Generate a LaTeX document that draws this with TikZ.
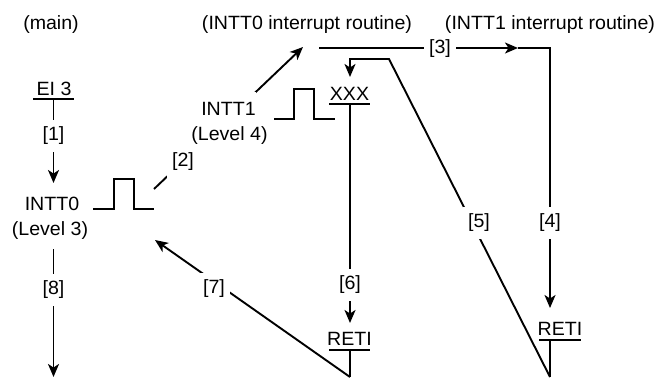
\documentclass[tikz,border=0pt]{standalone}
\usepackage{fontspec}
\setmainfont{Liberation Sans}[FakeStretch=1.02]
\usetikzlibrary{arrows.meta}
\begin{document}
\begin{tikzpicture}[x=1pt,y=-1pt,
  every node/.style={font=\fontsize{19.2}{25}\selectfont},
  wire/.style={line width=1.9pt},
  flow/.style={wire,-{Stealth[length=13pt,width=11pt,inset=3.5pt]}},
  txt/.style={inner sep=0pt,anchor=base},
  tag/.style={fill=white,inner xsep=5pt,inner ysep=7pt},
  cover/.style={fill=white,anchor=base,inner xsep=0pt,inner ysep=10pt}]
\useasboundingbox (0,0) rectangle (660,378);

% column headings
\node[txt] (hmain) at (51,29.5) {(main)};
\node[txt] (hint0) at (307,29.5) {(INTT0 interrupt routine)};
\node[txt] (hint1) at (550,29.5) {(INTT1 interrupt routine)};

% main program
\node[txt] (ei) at (54,95) {EI 3};
\coordinate (eiL) at (33,99);
\coordinate (eiR) at (74,99);
\coordinate (eiB) at (53.5,99);
\draw[wire] (eiL) -- (eiR);
\coordinate (intIn) at (53.5,183);
\draw[flow] (eiB) -- (intIn);
\node[tag] (s1) at (53.5,136) {[1]};

\node[txt] (int0) at (52,210) {INTT0};
\node[txt] (lev3) at (50,235) {(Level 3)};
\coordinate (mainOut) at (53.5,249);
\coordinate (mainEnd) at (53.5,377);
\draw[flow] (mainOut) -- (mainEnd);
\node[tag] (s8) at (53.5,290) {[8]};

% INTT0 request pulse
\coordinate (pl0) at (93,209);
\coordinate (pr0) at (154,209);
\draw[wire] (pl0) -- (114,209) -- (114,179) -- (134,179) -- (134,209) -- (pr0);

% [2] jump into the INTT0 routine
\coordinate (j2s) at (154,189);
\coordinate (j2e) at (303,47);
\draw[flow] (j2s) -- (j2e);
\node[tag] (s2) at (183,162) {[2]};
\node[cover] (int1) at (228.5,115) {INTT1};
\node[cover,inner xsep=3pt,inner ysep=5pt] (lev4) at (229.5,140) {(Level 4)};

% INTT1 request pulse
\coordinate (pl1) at (274,119);
\coordinate (pr1) at (335,119);
\draw[wire] (pl1) -- (294,119) -- (294,89) -- (314,89) -- (314,119) -- (pr1);

% [3] jump into the INTT1 routine, [4] down to RETI
\coordinate (j3s) at (319,48);
\coordinate (j3m) at (518,48);
\coordinate (j3c) at (550,48);
\coordinate (r1In) at (550,308);
\draw[flow] (j3s) -- (j3m);
\draw[flow] (j3m) -- (j3c) -- (r1In);
\node[tag] (s3) at (440,49) {[3]};
\node[tag] (s4) at (550,223) {[4]};

\node[txt] (reti1) at (560,335) {RETI};
\coordinate (r1L) at (539,340);
\coordinate (r1R) at (581,340);
\coordinate (r1T) at (550,340);
\coordinate (r1B) at (550,377);
\draw[wire] (r1L) -- (r1R);
\draw[wire] (r1T) -- (r1B);

% [5] return to XXX
\coordinate (hk) at (389,59);
\coordinate (hk2) at (350,59);
\coordinate (xIn) at (350,77);
\draw[flow] (r1B) -- (hk) -- (hk2) -- (xIn);
\node[tag] (s5) at (479,223) {[5]};

\node[txt] (xxx) at (349.5,100) {XXX};
\coordinate (xL) at (329,104);
\coordinate (xR) at (370,104);
\coordinate (xB) at (350,104);
\draw[wire] (xL) -- (xR);
\coordinate (r0In) at (350,323);
\draw[flow] (xB) -- (r0In);
\node[tag] (s6) at (350,285) {[6]};

\node[txt] (reti0) at (349.5,345) {RETI};
\coordinate (r0L) at (329,350);
\coordinate (r0R) at (370,350);
\coordinate (r0T) at (350,350);
\coordinate (r0B) at (350,377);
\draw[wire] (r0L) -- (r0R);
\draw[wire] (r0T) -- (r0B);

% [7] back to main
\coordinate (back) at (155,240);
\draw[flow] (r0B) -- (back);
\node[tag] (s7) at (214,289) {[7]};
\end{tikzpicture}
\end{document}
